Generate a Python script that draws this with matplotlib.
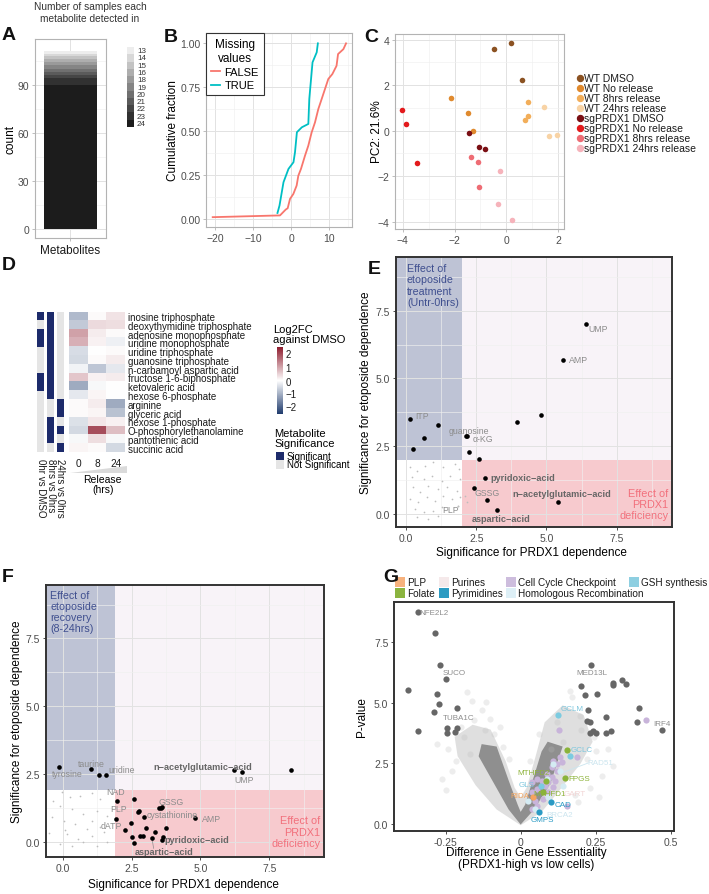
import numpy as np
import matplotlib
matplotlib.use('Agg')
import matplotlib.pyplot as plt
from matplotlib.colors import LinearSegmentedColormap, TwoSlopeNorm
from matplotlib.patches import Rectangle, Polygon
from matplotlib.lines import Line2D
from matplotlib.cm import ScalarMappable

plt.rcParams['font.family'] = ['Liberation Sans', 'DejaVu Sans']

W, H = 709, 895

# ---------------- data ----------------
# A: number of samples each metabolite detected in
a_levels = ['13', '14', '15', '16', '18', '19', '20', '21', '22', '23', '24']
a_counts = [2, 1, 2, 2, 2, 2, 2, 2, 2, 4, 90]

# B: ECDF of fold changes, by missing values
b_false_x = [-20.6, -2.94, -1.45, -0.92, -0.31, 0.56, 1.43, 1.87, 2.57, 3.62, 4.49, 5.37,
             6.25, 7.12, 8.0, 8.87, 9.74, 10.8, 11.9, 12.3, 13.7, 14.4]
b_false_y = [0.01, 0.02, 0.053, 0.061, 0.114, 0.142, 0.19, 0.246, 0.285, 0.36, 0.417, 0.493,
             0.55, 0.626, 0.683, 0.74, 0.797, 0.825, 0.872, 0.939, 0.967, 1.0]
b_true_x = [-3.6, -3.07, -2.02, -0.71, 0.6, 1.0, 1.5, 2.8, 4.5, 4.75, 5.6, 6.7, 7.0]
b_true_y = [0.034, 0.076, 0.209, 0.285, 0.323, 0.38, 0.494, 0.522, 0.541, 0.683, 0.892, 0.949, 1.0]

# C: PCA
c_groups = ['WT DMSO', 'WT No release', 'WT 8hrs release', 'WT 24hrs release',
            'sgPRDX1 DMSO', 'sgPRDX1 No release', 'sgPRDX1 8hrs release', 'sgPRDX1 24hrs release']
c_colors = ['#8B5222', '#E08A2E', '#F2AE5A', '#F8D3A5', '#7A0F14', '#E31A1C', '#EE6C74', '#F6B3BB']
c_pc1 = [[0.17, -0.46, 0.62], [-2.14, -1.47, -1.30], [0.84, 0.82, 0.71], [1.45, 1.66, 1.95],
         [-1.46, -1.07, -0.81], [-4.03, -3.87, -3.44], [-1.36, -1.10, -1.04], [-0.23, -0.33, 0.22]]
c_pc2 = [[3.87, 3.59, 2.23], [1.42, 0.78, 0.0], [1.25, 0.66, 0.47], [1.06, -0.23, -0.18],
         [-0.12, -0.70, -0.82], [0.91, 0.28, -1.43], [-1.14, -1.38, -2.49], [-1.77, -3.21, -3.94]]

# D: heatmap
d_names = ['inosine triphosphate', 'deoxythymidine triphosphate', 'adenosine monophosphate',
           'uridine monophosphate', 'uridine triphosphate', 'guanosine triphosphate',
           'n-carbamoyl aspartic acid', 'fructose 1-6-biphosphate', 'ketovaleric acid',
           'hexose 6-phosphate', 'arginine', 'glyceric acid', 'hexose 1-phosphate',
           'O-phosphorylethanolamine', 'pantothenic acid', 'succinic acid']
d_release = ['0', '8', '24']
d_vals = [[-0.9, 0.05, 0.3], [-0.7, 0.4, 0.35], [1.0, 0.2, 0.05], [0.85, 0.15, -0.2],
          [-0.45, 0.0, 0.05], [-0.5, 0.05, 0.2], [-0.15, -0.75, -0.3], [0.6, 0.15, 0.2],
          [-1.1, -0.1, 0.0], [-0.3, 0.1, 0.0], [0.05, 0.2, -1.1], [0.05, 0.1, -0.8],
          [-0.4, 0.25, 0.15], [-0.5, 1.9, 0.7], [-0.1, 0.35, -0.1], [0.1, 0.05, -0.5]]
d_sig_names = ['0hr vs DMSO', '8hrs vs 0hrs', '24hrs vs 0hrs']
d_sig = [[1, 0, 1, 1, 0, 0, 0, 1, 1, 0, 0, 0, 0, 0, 0, 0],
         [1, 1, 1, 1, 1, 1, 1, 1, 1, 1, 0, 0, 1, 1, 1, 0],
         [0, 0, 0, 0, 0, 0, 0, 0, 0, 0, 1, 1, 0, 1, 0, 1]]

# E: etoposide treatment vs PRDX1
e_x = [6.41, 5.59, 4.82, 3.94, 0.15, 1.15, 0.62, 0.26, 2.12, 2.16, 2.24, 2.6, 2.82, 2.42, 2.87, 5.41, 3.23]
e_y = [7.01, 5.68, 3.65, 3.41, 3.51, 3.27, 2.81, 2.40, 2.89, 2.87, 2.28, 2.02, 1.33, 0.97, 0.52, 0.45, 0.15]
e_small_x = [0.14, 0.38, 0.68, 0.97, 1.33, 1.74, 1.9, 0.2, 0.62, 0.91, 1.27, 1.57, 1.92, 0.26, 0.5,
             0.79, 1.15, 1.45, 1.8, 0.14, 0.44, 0.74, 1.03, 1.33, 1.63, 1.92, 0.32, 0.62, 0.97,
             1.27, 1.86, 0.38, 0.79, 1.15, 2.1, 2.18, 1.85]
e_small_y = [1.72, 1.6, 1.78, 1.91, 1.72, 1.85, 1.66, 1.35, 1.29, 1.41, 1.23, 1.41, 1.29, 0.98, 0.8,
             1.05, 0.92, 0.98, 0.86, 0.55, 0.43, 0.62, 0.49, 0.68, 0.55, 0.62, 0.18, 0.06, 0.12,
             0.25, 0.31, -0.12, -0.18, -0.09, 0.68, 0.45, 0.3]
e_lab = ['UMP', 'AMP', 'ITP', 'guanosine', 'α-KG', 'pyridoxic\u2212acid', 'GSSG',
         'n\u2212acetylglutamic\u2212acid', 'aspartic\u2212acid', 'PLP']
e_lab_x = [6.84, 6.13, 0.56, 2.25, 2.75, 3.01, 2.89, 5.54, 3.37, 1.57]
e_lab_y = [6.86, 5.69, 3.63, 3.09, 2.80, 1.35, 0.80, 0.77, -0.16, 0.15]
e_lab_bold = [0, 0, 0, 0, 0, 1, 0, 1, 1, 0]

# F: etoposide recovery vs PRDX1
f_x = [-0.13, 1.02, 1.30, 1.57, 6.21, 6.50, 8.29, 1.98, 2.60, 1.92, 2.27, 2.48, 2.50, 2.60, 2.72,
       2.78, 2.80, 2.90, 2.96, 3.01, 3.48, 3.56, 3.61, 3.24, 3.36, 3.59, 3.65, 3.74, 4.79]
f_y = [2.77, 2.68, 2.47, 2.47, 2.65, 2.58, 2.66, 1.48, 1.58, 0.84, 0.43, 0.69, 0.16, -0.06, 1.08,
       1.14, 0.20, 0.22, 0.90, 0.51, 1.23, 1.24, 1.27, 0.13, 0.35, 0.07, 0.16, 0.51, 0.87]
f_small_x = [-0.03, 0.27, 0.63, 1.06, 1.36, -0.09, 0.33, 0.75, 1.24, 1.6, 0.03, 0.45, 0.88, 1.36,
             0.15, 0.57, 1.06, 1.48, -0.09, 0.33, 0.75, 1.24, 1.6, 0.09, 1.06, -0.4, -0.5, -0.35]
f_small_y = [1.82, 1.64, 1.7, 1.8, 1.58, 1.33, 1.21, 1.02, 1.14, 0.96, 0.77, 0.65, 0.47, 0.53,
             0.28, 0.1, 0.2, 0.35, -0.08, -0.17, -0.02, -0.15, -0.02, 0.41, 0.77, 0.9, 0.3, 1.5]
f_lab = ['tyrosine', 'taurine', 'uridine', 'n\u2212acetylglutamic\u2212acid', 'UMP', 'NAD', 'GSSG',
         'PLP', 'cystathionine', 'AMP', 'dATP', 'pyridoxic\u2212acid', 'aspartic\u2212acid']
f_lab_x = [0.17, 1.02, 2.14, 5.09, 6.58, 1.90, 3.95, 2.02, 3.98, 5.42, 1.75, 3.71, 3.68]
f_lab_y = [2.50, 2.90, 2.66, 2.78, 2.28, 1.85, 1.49, 1.21, 1.00, 0.84, 0.58, 0.07, -0.37]
f_lab_bold = [0, 0, 0, 1, 0, 0, 0, 0, 0, 0, 0, 1, 1]
f_seg_x = [3.24, 3.30]
f_seg_y = [0.13, -0.25]

# G: volcano of gene essentiality
g_core_x = [0.0, -0.04, -0.09, -0.14, -0.13, -0.08, -0.04, -0.01, 0.0, 0.015, 0.04, 0.07, 0.09,
            0.14, 0.1, 0.045]
g_core_y = [-0.02, 0.6, 1.7, 2.8, 3.3, 3.2, 1.8, 0.8, 0.5, 0.8, 1.8, 3.0, 3.4, 3.2, 1.7, 0.6]
g_halo_x = [0.0, -0.08, -0.15, -0.21, -0.22, -0.16, -0.1, -0.05, -0.02, 0.0, 0.02, 0.05, 0.08,
            0.14, 0.21, 0.24, 0.2, 0.13, 0.07]
g_halo_y = [-0.05, 0.6, 1.6, 2.8, 3.6, 4.1, 3.9, 2.6, 1.5, 1.1, 1.5, 2.8, 4.2, 4.9, 4.5, 3.4,
            2.5, 1.4, 0.5]
g_bg_x = [-0.263, -0.241, -0.215, -0.19, -0.18, -0.163, -0.116, -0.102, -0.13, -0.2, -0.23,
          -0.155, -0.12, -0.09, -0.06, 0.198, 0.164, 0.17, 0.244, 0.309, 0.27, 0.25, 0.22, 0.2,
          0.23, 0.18, 0.14, 0.1, 0.06, 0.03, -0.04, -0.28, -0.25, 0.29, 0.26, 0.19, 0.12, -0.17, -0.07]
g_bg_y = [1.86, 3.1, 2.6, 3.6, 5.44, 5.1, 5.03, 4.34, 4.7, 4.0, 2.2, 4.3, 3.9, 3.7, 3.2, 4.48,
          5.51, 5.23, 3.6, 2.41, 2.0, 3.0, 2.7, 3.9, 1.5, 1.2, 3.4, 3.1, 3.7, 2.6, 2.7, 3.3, 1.4,
          3.1, 1.1, 0.9, 4.2, 2.9, 4.0]
g_sig_x = [-0.343, -0.285, -0.268, -0.25, -0.377, -0.278, -0.273, -0.213, -0.288, -0.341, -0.247,
           -0.247, -0.213, -0.219, 0.234, 0.202, 0.214, 0.255, 0.309, 0.309, 0.338, 0.351, 0.223,
           0.222, 0.231, 0.284, 0.231, 0.242, 0.251, 0.284, 0.301, 0.393, 0.387, 0.471]
g_sig_y = [8.75, 7.89, 6.58, 5.99, 5.54, 5.37, 4.96, 4.78, 4.62, 3.86, 3.95, 3.75, 3.95, 3.79,
           6.58, 5.69, 5.34, 5.37, 5.83, 5.74, 5.94, 5.77, 4.72, 4.27, 4.23, 4.41, 3.75, 3.86,
           3.76, 3.75, 3.83, 4.81, 4.2, 3.88]
g_ccc_x = [0.109, 0.131, 0.137, 0.103, 0.12, 0.087, 0.103, 0.053, 0.07, 0.092, 0.037, 0.081,
           0.053, 0.109, 0.037, 0.048, 0.053, 0.037, 0.155, 0.12, 0.114, 0.092, 0.075, 0.187,
           0.127, 0.418]
g_ccc_y = [2.62, 2.75, 2.55, 2.34, 2.2, 2.07, 1.93, 1.86, 1.79, 1.72, 1.72, 1.56, 1.45, 1.52,
           1.31, 0.97, 0.76, 0.62, 0.73, 2.48, 1.79, 1.31, 1.03, 2.78, 3.9, 4.3]
g_hr_x = [0.109, 0.131, 0.087, 0.092, 0.048, 0.142, 0.026]
g_hr_y = [2.48, 2.2, 1.86, 1.1, 0.62, 1.58, 0.97]
g_fol_x = [0.155, 0.148, 0.085, 0.075]
g_fol_y = [3.06, 1.89, 1.79, 1.31]
g_gsh_x = [0.125, 0.164, 0.067]
g_gsh_y = [4.52, 2.82, 1.56]
g_plp_x = [0.04]
g_plp_y = [1.1]
g_pyr_x = [0.1, 0.061]
g_pyr_y = [0.9, 0.51]
g_lab = ['NFE2L2', 'SUCO', 'TUBA1C', 'MED13L', 'IRF4', 'GCLM', 'GCLC', 'RAD51', 'MTHFD2', 'FPGS',
         'GLS', 'MTHFD1', 'RIDA', 'GART', 'CAD', 'BRCA2', 'GMPS']
g_lab_x = [-0.29, -0.222, -0.208, 0.237, 0.47, 0.17, 0.203, 0.264, 0.044, 0.194, 0.02, 0.098,
           -0.002, 0.181, 0.14, 0.131, 0.073]
g_lab_y = [8.75, 6.27, 4.41, 6.24, 4.16, 4.79, 3.06, 2.55, 2.13, 1.9, 1.65, 1.27, 1.17, 1.28,
           0.79, 0.41, 0.18]
g_lab_col = ['#8C8C8C'] * 5 + ['#7CC6DD', '#7CC6DD', '#CBE5EF', '#8DB33A', '#8DB33A', '#7CC6DD',
                               '#8DB33A', '#F5A65F', '#F2D4D4', '#2A9AC4', '#CBE5EF', '#2A9AC4']
g_seg_x = [0.137, 0.225]
g_seg_y = [2.11, 2.52]
g_leg = [['PLP', '#F7B27E'], ['Purines', '#F5E9EA'], ['Cell Cycle Checkpoint', '#CDBDDD'],
         ['GSH synthesis', '#8ECFE1'], ['Folate', '#8BB43F'], ['Pyrimidines', '#2D9BC2'],
         ['Homologous Recombination', '#DDEFF6']]

# ---------------- helpers ----------------
fig = plt.figure(figsize=(W / 100, H / 100), dpi=100)


def add_ax(l, t, r, b):
    return fig.add_axes([l / W, 1 - b / H, (r - l) / W, (b - t) / H])


def ftext(x, y, s, **kw):
    kw.setdefault('ha', 'center')
    kw.setdefault('va', 'center')
    return fig.text(x / W, 1 - y / H, s, **kw)


def frect(l, t, r, b, color):
    fig.add_artist(Rectangle((l / W, 1 - b / H), (r - l) / W, (b - t) / H,
                             transform=fig.transFigure, color=color, lw=0))


def style_ax(ax, xmaj, xmin, ymaj, ymin, edge='#B3B3B3', elw=0.8, grid=True):
    ax.set_xticks(xmaj)
    ax.set_yticks(ymaj)
    ax.set_xticks(xmin, minor=True)
    ax.set_yticks(ymin, minor=True)
    if grid:
        ax.grid(which='major', color='#E2E2E2', lw=0.7)
        ax.grid(which='minor', color='#F0F0F0', lw=0.45)
    ax.set_axisbelow(True)
    for s in ax.spines.values():
        s.set_color(edge)
        s.set_linewidth(elw)
        s.set_zorder(5)
    ax.tick_params(which='major', length=2.5, width=0.6, color=edge, labelsize=7.5,
                   labelcolor='#4D4D4D', pad=1.5)
    ax.tick_params(which='minor', length=0)


def letter(x, y, s):
    ftext(x, y, s, ha='left', fontsize=14, fontweight='bold', color='#111111')


# ---------------- A ----------------
axA = add_ax(35, 40, 106, 239)
greys = [str(v) for v in np.linspace(0.93, 0.11, len(a_levels))]
bottom = 0
for lvl, cnt, col in zip(a_levels[::-1], a_counts[::-1], greys[::-1]):
    axA.bar(1, cnt, bottom=bottom, width=0.9, color=col, lw=0)
    bottom += cnt
axA.set_xlim(0.4, 1.6)
axA.set_ylim(-5.6, 118.5)
style_ax(axA, [1], [], [0, 30, 60, 90], [15, 45, 75, 105])
axA.set_xticklabels(['Metabolites'], fontsize=8.5, color='#1A1A1A')
ftext(11, 140, 'count', rotation=90, fontsize=8.5)
ftext(90, 13, 'Number of samples each\nmetabolite detected in', fontsize=7.3, color='#333333',
      linespacing=1.2)
axAl = add_ax(127, 48, 134, 128)
axAl.barh(np.arange(len(a_levels)), 1, height=1.0, color=greys, lw=0)
axAl.set_ylim(len(a_levels) - 0.5, -0.5)
axAl.set_xlim(0, 1)
axAl.axis('off')
for i, lvl in enumerate(a_levels):
    ftext(137, 48 + (i + 0.5) * 80 / len(a_levels), lvl, ha='left', fontsize=5.8, color='#333333')
letter(2, 35, 'A')

# ---------------- B ----------------
axB = add_ax(206, 34, 352, 228)
axB.plot(b_false_x, b_false_y, color='#F8766D', lw=1.3, label='FALSE')
axB.plot(b_true_x, b_true_y, color='#00BFC4', lw=1.3, label='TRUE')
axB.set_xlim(-22.36, 15.96)
axB.set_ylim(-0.046, 1.059)
style_ax(axB, [-20, -10, 0, 10], [-15, -5, 5, 15], [0, 0.25, 0.5, 0.75, 1.0],
         [0.125, 0.375, 0.625, 0.875])
axB.set_yticklabels(['0.00', '0.25', '0.50', '0.75', '1.00'])
leg = axB.legend(title='Missing\nvalues', loc='upper left', bbox_to_anchor=(0, 1), borderaxespad=0,
                 fontsize=8, title_fontsize=8.5, handlelength=0.8, handletextpad=0.4,
                 labelspacing=0.3, borderpad=0.45, fancybox=False, framealpha=1)
leg.get_frame().set_edgecolor('#333333')
leg.get_frame().set_linewidth(0.8)
leg.get_title().set_multialignment('center')
ftext(173, 131, 'Cumulative fraction', rotation=90, fontsize=8.5)
letter(164, 37, 'B')

# ---------------- C ----------------
axC = add_ax(395, 35, 564, 230)
for g, col, xs, ys in zip(c_groups, c_colors, c_pc1, c_pc2):
    axC.scatter(xs, ys, s=16, color=col, lw=0, zorder=3)
axC.set_xlim(-4.3, 2.23)
axC.set_ylim(-4.32, 4.25)
style_ax(axC, [-4, -2, 0, 2], [-3, -1, 1], [-4, -2, 0, 2, 4], [-3, -1, 1, 3])
ftext(377, 132, 'PC2: 21.6%', rotation=90, fontsize=8.5)
for i, (g, col) in enumerate(zip(c_groups, c_colors)):
    y = 79 + 10 * i
    fig.add_artist(Line2D([579.5 / W], [1 - y / H], marker='o', ms=4.3, color=col, lw=0,
                          transform=fig.transFigure))
    ftext(583.5, y, g, ha='left', fontsize=7.5, color='#1A1A1A')
letter(364, 37, 'C')

# ---------------- D ----------------
axDs = add_ax(36, 312.7, 65, 453)
for j in range(3):
    for i in range(len(d_names)):
        axDs.bar(j, 1, bottom=i, width=0.7, color='#1D2B6B' if d_sig[j][i] else '#E5E5E5', lw=0)
axDs.set_xlim(-0.5, 2.5)
axDs.set_ylim(len(d_names), 0)
for s in axDs.spines.values():
    s.set_visible(False)
axDs.set_yticks([])
axDs.set_xticks(range(3))
axDs.set_xticklabels(d_sig_names, rotation=270, fontsize=7, va='top', ha='center', color='#1A1A1A')
axDs.tick_params(axis='x', length=0, pad=4)

cmap = LinearSegmentedColormap.from_list('rb', ['#1F3B6D', '#FFFFFF', '#8E1C2E'])
norm = TwoSlopeNorm(vcenter=0, vmin=-2.6, vmax=2.45)
axH = add_ax(69, 312.7, 125, 453)
axH.imshow(np.array(d_vals), cmap=cmap, norm=norm, aspect='auto',
           extent=(0, 3, len(d_names), 0), interpolation='nearest')
for s in axH.spines.values():
    s.set_visible(False)
axH.set_xticks(np.arange(3) + 0.5)
axH.set_xticklabels(d_release, fontsize=7.3, color='#1A1A1A')
axH.yaxis.tick_right()
axH.set_yticks(np.arange(len(d_names)) + 0.5)
axH.set_yticklabels(d_names, fontsize=7, color='#1A1A1A')
axH.tick_params(axis='both', length=0)
axH.tick_params(axis='x', pad=4)
axH.tick_params(axis='y', pad=2)
fig.add_artist(Polygon([(70 / W, 1 - 474 / H), (126.7 / W, 1 - 474 / H), (126.7 / W, 1 - 467 / H)],
                       closed=True, transform=fig.transFigure, color='#DADADA', lw=0))
ftext(102.7, 485, 'Release\n(hrs)', fontsize=7.5, linespacing=1.0)

cax = add_ax(277, 348, 283, 415)
cb = fig.colorbar(ScalarMappable(norm=norm, cmap=cmap), cax=cax)
cb.outline.set_visible(False)
cb.set_ticks([-2, -1, 0, 1, 2])
cax.tick_params(length=0, labelsize=7, pad=2, labelcolor='#1A1A1A')
ftext(273, 335, 'Log2FC\nagainst DMSO', ha='left', fontsize=8, linespacing=1.1)
ftext(274, 439, 'Metabolite\nSignificance', ha='left', fontsize=8, linespacing=1.0)
frect(276, 452.5, 284, 461, '#1D2B6B')
frect(276, 461, 284, 469.5, '#E5E5E5')
ftext(287, 456.5, 'Significant', ha='left', fontsize=7)
ftext(287, 465.5, 'Not Significant', ha='left', fontsize=7)
letter(2, 266, 'D')


# ---------------- E / F ----------------
def quad_panel(ax, xlim, ylim, thr):
    ax.set_xlim(*xlim)
    ax.set_ylim(*ylim)
    ax.add_patch(Rectangle((-5, thr), 5 + thr, 20, color='#BEC3D5', lw=0, zorder=0.2))
    ax.add_patch(Rectangle((thr, thr), 20, 20, color='#F8F3F8', lw=0, zorder=0.2))
    ax.add_patch(Rectangle((thr, -5), 20, 5 + thr, color='#F7CACE', lw=0, zorder=0.2))
    style_ax(ax, [0, 2.5, 5, 7.5], [1.25, 3.75, 6.25, 8.75], [0, 2.5, 5, 7.5],
             [1.25, 3.75, 6.25, 8.75], edge='#333333', elw=1.4)
    ax.set_xticklabels(['0.0', '2.5', '5.0', '7.5'])
    ax.set_yticklabels(['0.0', '2.5', '5.0', '7.5'])
    ax.tick_params(which='major', color='#333333', labelcolor='#4D4D4D')


def point_labels(ax, labs, xs, ys, bolds):
    for t, x, y, b in zip(labs, xs, ys, bolds):
        if b:
            ax.text(x, y, t, fontsize=6.6, fontweight='bold', color='#666666',
                    ha='left' if 'pyridoxic' in t else 'center', va='center', zorder=4)
        else:
            ax.text(x, y, t, fontsize=6.3, color='#8C8C8C', ha='center', va='center', zorder=4)


axE = add_ax(395.7, 258, 672.3, 528.3)
quad_panel(axE, (-0.37, 9.48), (-0.49, 9.48), 2.0)
axE.scatter(e_small_x, e_small_y, s=1.5, color='#BDBDBD', lw=0, zorder=2)
axE.scatter(e_x, e_y, s=11, color='black', lw=0, zorder=3)
point_labels(axE, e_lab, e_lab_x, e_lab_y, e_lab_bold)
axE.text(0.03, 9.25, 'Effect of\netoposide\ntreatment\n(Untr-0hrs)', fontsize=7.7, color='#3F4F8F',
         ha='left', va='top', linespacing=1.15, zorder=4)
axE.text(9.35, 0.97, 'Effect of\nPRDX1\ndeficiency', fontsize=7.8, color='#F2707C', ha='right',
         va='top', linespacing=1.15, zorder=4)
ftext(531, 553, 'Significance for PRDX1 dependence', fontsize=8.5)
ftext(366, 393, 'Significance for etoposide dependence', rotation=90, fontsize=8.5)
letter(368, 270, 'E')

axF = add_ax(45.7, 586, 324, 858.3)
quad_panel(axF, (-0.62, 9.49), (-0.58, 9.47), 1.9)
axF.scatter(f_small_x, f_small_y, s=1.5, color='#BDBDBD', lw=0, zorder=2)
axF.plot(f_seg_x, f_seg_y, color='#8C8C8C', lw=0.5, zorder=2)
axF.scatter(f_x, f_y, s=11, color='black', lw=0, zorder=3)
point_labels(axF, f_lab, f_lab_x, f_lab_y, f_lab_bold)
axF.text(-0.45, 9.3, 'Effect of\netoposide\nrecovery\n(8-24hrs)', fontsize=7.7, color='#3F4F8F',
         ha='left', va='top', linespacing=1.15, zorder=4)
axF.text(9.35, 0.97, 'Effect of\nPRDX1\ndeficiency', fontsize=7.8, color='#F2707C', ha='right',
         va='top', linespacing=1.15, zorder=4)
ftext(183, 885, 'Significance for PRDX1 dependence', fontsize=8.5)
ftext(17, 722, 'Significance for etoposide dependence', rotation=90, fontsize=8.5)
letter(2, 578, 'F')

# ---------------- G ----------------
axG = add_ax(394, 602.7, 674.3, 832.3)
axG.add_patch(Polygon(np.column_stack([g_halo_x, g_halo_y]), closed=True, color='#D2D2D2',
                      alpha=0.7, lw=0, zorder=1))
axG.add_patch(Polygon(np.column_stack([g_core_x, g_core_y]), closed=True, color='#8F8F8F',
                      lw=0, zorder=1.1))
axG.scatter(g_bg_x, g_bg_y, s=20, color='#BBBBBB', alpha=0.25, lw=0, zorder=1.2)
axG.scatter(g_sig_x, g_sig_y, s=20, color='#666666', lw=0, zorder=3)
axG.scatter(g_ccc_x, g_ccc_y, s=20, color='#C8B4DA', lw=0, zorder=3)
axG.scatter(g_hr_x, g_hr_y, s=20, color='#D4EBF3', lw=0, zorder=3)
axG.scatter(g_fol_x, g_fol_y, s=20, color='#8AB33A', lw=0, zorder=3)
axG.scatter(g_gsh_x, g_gsh_y, s=20, color='#7CCBE0', lw=0, zorder=3)
axG.scatter(g_plp_x, g_plp_y, s=20, color='#F5A35F', lw=0, zorder=3)
axG.scatter(g_pyr_x, g_pyr_y, s=20, color='#2A9AC4', lw=0, zorder=3)
axG.plot(g_seg_x, g_seg_y, color='#CBE5EF', lw=0.6, zorder=2.5)
for t, x, y, c in zip(g_lab, g_lab_x, g_lab_y, g_lab_col):
    axG.text(x, y, t, fontsize=5.8, color=c, ha='center', va='center', zorder=4)
axG.set_xlim(-0.422, 0.512)
axG.set_ylim(-0.3, 9.18)
style_ax(axG, [-0.25, 0, 0.25, 0.5], [], [0, 2.5, 5, 7.5], [], edge='#333333', elw=1.4, grid=False)
axG.set_xticklabels(['-0.25', '0', '0.25', '0.5'])
axG.set_yticklabels(['0.0', '2.5', '5.0', '7.5'])
ftext(526, 859, 'Difference in Gene Essentiality\n(PRDX1-high vs low cells)', fontsize=8.5,
      linespacing=1.1)
ftext(362, 717, 'P-value', rotation=90, fontsize=8.5)
for k, (name, col) in enumerate(g_leg):
    row = 0 if k < 4 else 1
    col_i = k if k < 4 else k - 4
    kx = [395, 439.3, 506, 629.3][col_i]
    ky = 578.3 + row * 11
    frect(kx, ky, kx + 9.5, ky + 10, col)
    ftext(kx + 12, ky + 5, name, ha='left', fontsize=7.2, color='#1A1A1A')
letter(383, 578, 'G')

fig.savefig('out.png', dpi=100)
